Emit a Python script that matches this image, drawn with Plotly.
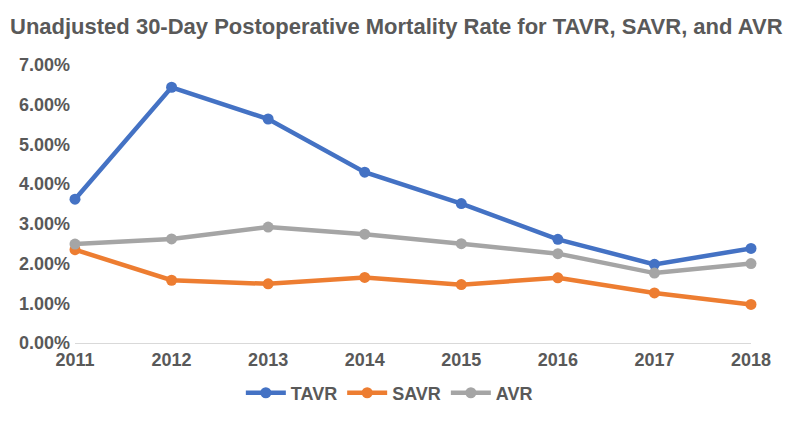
import plotly.graph_objects as go

years = [2011, 2012, 2013, 2014, 2015, 2016, 2017, 2018]
tavr = [3.62, 6.44, 5.64, 4.30, 3.51, 2.61, 1.98, 2.38]
savr = [2.35, 1.58, 1.49, 1.65, 1.47, 1.64, 1.26, 0.97]
avr = [2.49, 2.62, 2.92, 2.74, 2.50, 2.25, 1.76, 2.00]
y_ticks = [0, 1, 2, 3, 4, 5, 6, 7]
y_tick_labels = ['0.00%', '1.00%', '2.00%', '3.00%', '4.00%', '5.00%', '6.00%', '7.00%']

series = [('TAVR', tavr, '#4472C4'), ('SAVR', savr, '#ED7D31'), ('AVR', avr, '#A5A5A5')]
text_grey = '#595959'
font_family = 'Liberation Sans, Arial, sans-serif'

# the page puts the figure 8px in from the top left corner
W, H = 794, 420

fig = go.Figure()
for name, values, colour in series:
    fig.add_trace(go.Scatter(x=years, y=values, name=f'<b>{name}</b>', mode='lines+markers',
                             line=dict(color=colour, width=4.5),
                             marker=dict(color=colour, size=11),
                             cliponaxis=False))

fig.update_layout(
    width=W, height=H,
    paper_bgcolor='white', plot_bgcolor='white',
    margin=dict(l=67, r=51, t=57, b=85),
    font=dict(family=font_family, color=text_grey),
    title=dict(text='<b>Unadjusted 30-Day Postoperative Mortality Rate for TAVR, SAVR, and AVR</b>',
               x=2 / W, xanchor='left', xref='container',
               y=1 - 18 / H, yanchor='middle', yref='container',
               font=dict(size=22, color=text_grey, family=font_family)),
    legend=dict(orientation='h', x=0.465, xanchor='center', y=-0.18, yanchor='middle',
                font=dict(size=18, color=text_grey), itemwidth=40),
    showlegend=True,
)
fig.update_xaxes(range=[2011, 2018], tickvals=years, ticktext=[f'<b>{y}</b>' for y in years],
                 showgrid=False, zeroline=False, showline=True, linecolor='#D9D9D9', linewidth=1,
                 ticks='', tickfont=dict(size=18, color=text_grey))
fig.update_yaxes(range=[0, 7], tickvals=y_ticks, ticktext=[f'<b>{t}</b>' for t in y_tick_labels],
                 showgrid=False, zeroline=False, showline=False, ticks='',
                 ticklabelstandoff=4, tickfont=dict(size=18, color=text_grey))

fig.write_html("out.html")
